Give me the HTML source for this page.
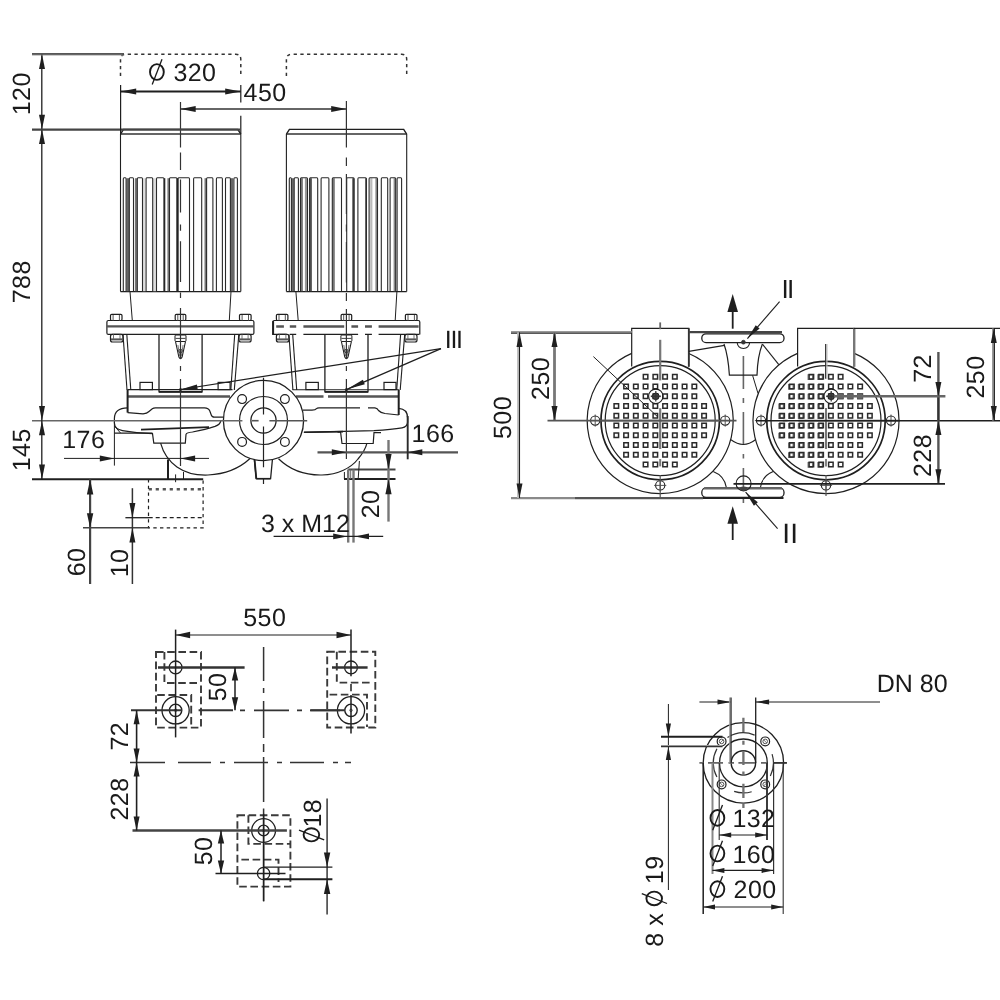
<!DOCTYPE html>
<html>
<head>
<meta charset="utf-8">
<title>Dimension drawing</title>
<style>
html,body{margin:0;padding:0;background:#fff;}
body{width:1000px;height:1000px;overflow:hidden;}
svg{display:block;will-change:transform;filter:grayscale(1);}
svg text{font-family:"Liberation Sans",sans-serif;text-rendering:geometricPrecision;}
</style>
</head>
<body>
<svg width="1000" height="1000" viewBox="0 0 1000 1000">
<rect x="0" y="0" width="1000" height="1000" fill="#ffffff"/>
<!-- front view -->
<path d="M120.5 76 V59.5 Q120.5 54.3 125.5 54.3 H235.8 Q240.8 54.3 240.8 59.5 V76" stroke="#333" stroke-width="1.5" fill="none" stroke-dasharray="3.3 3.4"/>
<path d="M120.5 134.2 L123.5 129.4 H237.8 L240.8 134.2" stroke="#1f1f1f" stroke-width="1.4" fill="none"/>
<line x1="120.5" y1="134" x2="240.8" y2="134" stroke="#333" stroke-width="1.7"/>
<line x1="120.5" y1="134" x2="120.5" y2="291.6" stroke="#1f1f1f" stroke-width="1.1"/>
<line x1="240.8" y1="134" x2="240.8" y2="291.6" stroke="#1f1f1f" stroke-width="1.1"/>
<line x1="120.5" y1="291.6" x2="240.8" y2="291.6" stroke="#1f1f1f" stroke-width="1.2"/>
<rect x="126.5" y="178.2" width="2.8" height="113" stroke="none" stroke-width="0" fill="#666"/>
<rect x="134.9" y="178.2" width="2.4" height="113" stroke="none" stroke-width="0" fill="#777"/>
<rect x="164" y="178.2" width="1.3" height="113" stroke="none" stroke-width="0" fill="#222"/>
<rect x="167.4" y="178.2" width="2.1" height="113" stroke="none" stroke-width="0" fill="#777"/>
<rect x="176.8" y="178.2" width="1.5" height="113" stroke="none" stroke-width="0" fill="#111"/>
<rect x="204.5" y="178.2" width="2.1" height="113" stroke="none" stroke-width="0" fill="#777"/>
<rect x="230.7" y="178.2" width="2.5" height="113" stroke="none" stroke-width="0" fill="#666"/>
<rect x="142.9" y="178.2" width="2.8" height="113" stroke="none" stroke-width="0" fill="#ddd"/>
<rect x="153.1" y="178.2" width="3" height="113" stroke="none" stroke-width="0" fill="#ddd"/>
<path d="M123.3 291.6 V179 Q123.3 177.7 124.1 177.7 H125.3 Q126.1 177.7 126.1 179 V291.6" stroke="#2a2a2a" stroke-width="1.1" fill="none"/>
<path d="M129.3 291.6 V179 Q129.3 177.7 130.1 177.7 H132.7 Q133.5 177.7 133.5 179 V291.6" stroke="#2a2a2a" stroke-width="1.1" fill="none"/>
<path d="M137.3 291.6 V179 Q137.3 177.7 138.1 177.7 H141.7 Q142.5 177.7 142.5 179 V291.6" stroke="#2a2a2a" stroke-width="1.1" fill="none"/>
<path d="M146.1 291.6 V179 Q146.1 177.7 146.9 177.7 H151.9 Q152.7 177.7 152.7 179 V291.6" stroke="#2a2a2a" stroke-width="1.1" fill="none"/>
<path d="M156.5 291.6 V179 Q156.5 177.7 157.3 177.7 H163.1 Q163.9 177.7 163.9 179 V291.6" stroke="#2a2a2a" stroke-width="1.1" fill="none"/>
<path d="M169.5 291.6 V179 Q169.5 177.7 170.3 177.7 H176.1 Q176.9 177.7 176.9 179 V291.6" stroke="#2a2a2a" stroke-width="1.1" fill="none"/>
<path d="M178 291.6 V179 Q178 177.7 178.8 177.7 H188.7 Q189.5 177.7 189.5 179 V291.6" stroke="#2a2a2a" stroke-width="1.1" fill="none"/>
<path d="M193.6 291.6 V179 Q193.6 177.7 194.4 177.7 H200.9 Q201.7 177.7 201.7 179 V291.6" stroke="#2a2a2a" stroke-width="1.1" fill="none"/>
<path d="M206.6 291.6 V179 Q206.6 177.7 207.4 177.7 H212.1 Q212.9 177.7 212.9 179 V291.6" stroke="#2a2a2a" stroke-width="1.1" fill="none"/>
<path d="M216.4 291.6 V179 Q216.4 177.7 217.2 177.7 H221.6 Q222.4 177.7 222.4 179 V291.6" stroke="#2a2a2a" stroke-width="1.1" fill="none"/>
<path d="M225.5 291.6 V179 Q225.5 177.7 226.3 177.7 H229.6 Q230.4 177.7 230.4 179 V291.6" stroke="#2a2a2a" stroke-width="1.1" fill="none"/>
<path d="M233.9 291.6 V179 Q233.9 177.7 234.7 177.7 H236.6 Q237.4 177.7 237.4 179 V291.6" stroke="#2a2a2a" stroke-width="1.1" fill="none"/>
<line x1="130" y1="291.6" x2="132.3" y2="320.5" stroke="#1f1f1f" stroke-width="1"/>
<line x1="231" y1="291.6" x2="229.3" y2="320.5" stroke="#1f1f1f" stroke-width="1"/>
<rect x="106.9" y="320.5" width="147" height="13.9" stroke="#1f1f1f" stroke-width="1.2" fill="none" rx="1.5"/>
<line x1="106.9" y1="326.4" x2="253.9" y2="326.4" stroke="#555" stroke-width="2.4"/>
<rect x="110.5" y="314.4" width="11.5" height="6.1" stroke="#1f1f1f" stroke-width="1.2" fill="none" rx="1.2"/>
<line x1="113.1" y1="315" x2="113.1" y2="320.5" stroke="#555" stroke-width="1"/>
<line x1="119.4" y1="315" x2="119.4" y2="320.5" stroke="#555" stroke-width="1"/>
<rect x="175.2" y="314.4" width="10.6" height="6.1" stroke="#1f1f1f" stroke-width="1.2" fill="none" rx="1.2"/>
<line x1="177.8" y1="315" x2="177.8" y2="320.5" stroke="#555" stroke-width="1"/>
<line x1="183.2" y1="315" x2="183.2" y2="320.5" stroke="#555" stroke-width="1"/>
<rect x="239.5" y="314.4" width="11.6" height="6.1" stroke="#1f1f1f" stroke-width="1.2" fill="none" rx="1.2"/>
<line x1="242.1" y1="315" x2="242.1" y2="320.5" stroke="#555" stroke-width="1"/>
<line x1="248.5" y1="315" x2="248.5" y2="320.5" stroke="#555" stroke-width="1"/>
<rect x="110.5" y="334.4" width="12.5" height="7.6" stroke="#1f1f1f" stroke-width="1.2" fill="none" rx="2"/>
<line x1="111" y1="339.4" x2="122.5" y2="339.4" stroke="#555" stroke-width="2"/>
<line x1="113.5" y1="334.4" x2="113.5" y2="339" stroke="#666" stroke-width="0.9"/>
<line x1="120" y1="334.4" x2="120" y2="339" stroke="#666" stroke-width="0.9"/>
<rect x="239" y="334.4" width="12.1" height="7.6" stroke="#1f1f1f" stroke-width="1.2" fill="none" rx="2"/>
<line x1="239.5" y1="339.4" x2="250.6" y2="339.4" stroke="#555" stroke-width="2"/>
<line x1="242" y1="334.4" x2="242" y2="339" stroke="#666" stroke-width="0.9"/>
<line x1="248.1" y1="334.4" x2="248.1" y2="339" stroke="#666" stroke-width="0.9"/>
<line x1="123" y1="334.4" x2="127" y2="390" stroke="#1f1f1f" stroke-width="1.1"/>
<line x1="126.8" y1="334.4" x2="130.8" y2="390" stroke="#1f1f1f" stroke-width="1.1"/>
<line x1="238.8" y1="334.4" x2="234.3" y2="390" stroke="#1f1f1f" stroke-width="1.1"/>
<line x1="234.7" y1="334.4" x2="230.8" y2="390" stroke="#1f1f1f" stroke-width="1.1"/>
<path d="M159 334.4 V391.9 H202.1 V334.4" stroke="#1f1f1f" stroke-width="1.3" fill="none"/>
<line x1="159" y1="391.9" x2="202.1" y2="391.9" stroke="#1f1f1f" stroke-width="1.8"/>
<rect x="175" y="335" width="11" height="6.5" stroke="#1f1f1f" stroke-width="1" fill="none" rx="1"/>
<line x1="175.5" y1="338.4" x2="185.5" y2="338.4" stroke="#444" stroke-width="1"/>
<path d="M175.5 341.5 L178.9 357 Q180.5 360.5 182.1 357 L185.5 341.5" stroke="#1f1f1f" stroke-width="1.1" fill="none"/>
<path d="M177.9 345 L179.7 356 M183.1 345 L181.3 356" stroke="#555" stroke-width="0.8" fill="none"/>
<circle cx="180.5" cy="351" r="1.7" stroke="#1f1f1f" stroke-width="0.9" fill="none"/>
<rect x="140" y="382.4" width="12.4" height="7.2" stroke="#1f1f1f" stroke-width="1.2" fill="none"/>
<rect x="218.1" y="382.4" width="12" height="7.2" stroke="#1f1f1f" stroke-width="1.2" fill="none"/>
<path d="M286.4 76 V59.5 Q286.4 54.3 291.4 54.3 H401.7 Q406.7 54.3 406.7 59.5 V76" stroke="#333" stroke-width="1.5" fill="none" stroke-dasharray="3.3 3.4"/>
<path d="M286.4 134.2 L289.4 129.4 H403.7 L406.7 134.2" stroke="#1f1f1f" stroke-width="1.4" fill="none"/>
<line x1="286.4" y1="134" x2="406.7" y2="134" stroke="#333" stroke-width="1.7"/>
<line x1="286.4" y1="134" x2="286.4" y2="291.6" stroke="#1f1f1f" stroke-width="1.1"/>
<line x1="406.7" y1="134" x2="406.7" y2="291.6" stroke="#1f1f1f" stroke-width="1.1"/>
<line x1="286.4" y1="291.6" x2="406.7" y2="291.6" stroke="#1f1f1f" stroke-width="1.2"/>
<rect x="291.7" y="178.2" width="2.2" height="113" stroke="none" stroke-width="0" fill="#666"/>
<rect x="300.7" y="178.2" width="2.2" height="113" stroke="none" stroke-width="0" fill="#777"/>
<rect x="304.9" y="178.2" width="2.3" height="113" stroke="none" stroke-width="0" fill="#999"/>
<rect x="309.6" y="178.2" width="2.3" height="113" stroke="none" stroke-width="0" fill="#555"/>
<rect x="332.6" y="178.2" width="2.2" height="113" stroke="none" stroke-width="0" fill="#777"/>
<rect x="352.3" y="178.2" width="2" height="113" stroke="none" stroke-width="0" fill="#444"/>
<rect x="365.4" y="178.2" width="1.4" height="113" stroke="none" stroke-width="0" fill="#222"/>
<rect x="370.2" y="178.2" width="2.2" height="113" stroke="none" stroke-width="0" fill="#bbb"/>
<rect x="375.4" y="178.2" width="2" height="113" stroke="none" stroke-width="0" fill="#888"/>
<rect x="393.6" y="178.2" width="2" height="113" stroke="none" stroke-width="0" fill="#888"/>
<path d="M289.3 291.6 V179 Q289.3 177.7 290.1 177.7 H290.6 Q291.4 177.7 291.4 179 V291.6" stroke="#2a2a2a" stroke-width="1.1" fill="none"/>
<path d="M294.2 291.6 V179 Q294.2 177.7 295 177.7 H297.6 Q298.4 177.7 298.4 179 V291.6" stroke="#2a2a2a" stroke-width="1.1" fill="none"/>
<path d="M300.5 291.6 V179 Q300.5 177.7 301.3 177.7 H306.7 Q307.5 177.7 307.5 179 V291.6" stroke="#2a2a2a" stroke-width="1.1" fill="none"/>
<path d="M309.6 291.6 V179 Q309.6 177.7 310.4 177.7 H316.9 Q317.7 177.7 317.7 179 V291.6" stroke="#2a2a2a" stroke-width="1.1" fill="none"/>
<path d="M321.1 291.6 V179 Q321.1 177.7 321.9 177.7 H328.1 Q328.9 177.7 328.9 179 V291.6" stroke="#2a2a2a" stroke-width="1.1" fill="none"/>
<path d="M332.3 291.6 V179 Q332.3 177.7 333.1 177.7 H340.7 Q341.5 177.7 341.5 179 V291.6" stroke="#2a2a2a" stroke-width="1.1" fill="none"/>
<path d="M346.7 291.6 V179 Q346.7 177.7 347.5 177.7 H353.3 Q354.1 177.7 354.1 179 V291.6" stroke="#2a2a2a" stroke-width="1.1" fill="none"/>
<path d="M357.9 291.6 V179 Q357.9 177.7 358.7 177.7 H365.5 Q366.3 177.7 366.3 179 V291.6" stroke="#2a2a2a" stroke-width="1.1" fill="none"/>
<path d="M369.1 291.6 V179 Q369.1 177.7 369.9 177.7 H376.7 Q377.5 177.7 377.5 179 V291.6" stroke="#2a2a2a" stroke-width="1.1" fill="none"/>
<path d="M381.3 291.6 V179 Q381.3 177.7 382.1 177.7 H386.9 Q387.7 177.7 387.7 179 V291.6" stroke="#2a2a2a" stroke-width="1.1" fill="none"/>
<path d="M390.1 291.6 V179 Q390.1 177.7 390.9 177.7 H394.9 Q395.7 177.7 395.7 179 V291.6" stroke="#2a2a2a" stroke-width="1.1" fill="none"/>
<path d="M397.1 291.6 V179 Q397.1 177.7 397.9 177.7 H400.8 Q401.6 177.7 401.6 179 V291.6" stroke="#2a2a2a" stroke-width="1.1" fill="none"/>
<line x1="295.9" y1="291.6" x2="298.2" y2="320.5" stroke="#1f1f1f" stroke-width="1"/>
<line x1="396.9" y1="291.6" x2="395.2" y2="320.5" stroke="#1f1f1f" stroke-width="1"/>
<path d="M272.8 334.4 V322 Q272.8 320.5 274.3 320.5 H418.3 Q419.8 320.5 419.8 322 V334.4" stroke="#1f1f1f" stroke-width="1.2" fill="none"/>
<line x1="276.2" y1="326.5" x2="418.6" y2="326.5" stroke="#555" stroke-width="2.4" stroke-dasharray="7.7 5.9 6.4 7.2 40.8 7.2 6.7 6.9 6.9 6.7 40"/>
<line x1="272.2" y1="334.4" x2="419.4" y2="334.4" stroke="#1f1f1f" stroke-width="1.3" stroke-dasharray="14.4 3.2 6.4 7.2 54.7 6.9 6.9 6.7 40.8"/>
<line x1="273.2" y1="321" x2="273.2" y2="334.4" stroke="#1f1f1f" stroke-width="1.8"/>
<rect x="276.4" y="314.4" width="11.5" height="6.1" stroke="#1f1f1f" stroke-width="1.2" fill="none" rx="1.2"/>
<line x1="279" y1="315" x2="279" y2="320.5" stroke="#555" stroke-width="1"/>
<line x1="285.3" y1="315" x2="285.3" y2="320.5" stroke="#555" stroke-width="1"/>
<rect x="341.1" y="314.4" width="10.6" height="6.1" stroke="#1f1f1f" stroke-width="1.2" fill="none" rx="1.2"/>
<line x1="343.7" y1="315" x2="343.7" y2="320.5" stroke="#555" stroke-width="1"/>
<line x1="349.1" y1="315" x2="349.1" y2="320.5" stroke="#555" stroke-width="1"/>
<rect x="405.4" y="314.4" width="11.6" height="6.1" stroke="#1f1f1f" stroke-width="1.2" fill="none" rx="1.2"/>
<line x1="408" y1="315" x2="408" y2="320.5" stroke="#555" stroke-width="1"/>
<line x1="414.4" y1="315" x2="414.4" y2="320.5" stroke="#555" stroke-width="1"/>
<rect x="276.4" y="334.4" width="12.5" height="7.6" stroke="#1f1f1f" stroke-width="1.2" fill="none" rx="2"/>
<line x1="276.9" y1="339.4" x2="288.4" y2="339.4" stroke="#555" stroke-width="2"/>
<line x1="279.4" y1="334.4" x2="279.4" y2="339" stroke="#666" stroke-width="0.9"/>
<line x1="285.9" y1="334.4" x2="285.9" y2="339" stroke="#666" stroke-width="0.9"/>
<rect x="404.9" y="334.4" width="12.1" height="7.6" stroke="#1f1f1f" stroke-width="1.2" fill="none" rx="2"/>
<line x1="405.4" y1="339.4" x2="416.5" y2="339.4" stroke="#555" stroke-width="2"/>
<line x1="407.9" y1="334.4" x2="407.9" y2="339" stroke="#666" stroke-width="0.9"/>
<line x1="414" y1="334.4" x2="414" y2="339" stroke="#666" stroke-width="0.9"/>
<line x1="288.9" y1="334.4" x2="292.9" y2="390" stroke="#1f1f1f" stroke-width="1.1"/>
<line x1="292.7" y1="334.4" x2="296.7" y2="390" stroke="#1f1f1f" stroke-width="1.1"/>
<line x1="404.7" y1="334.4" x2="400.2" y2="390" stroke="#1f1f1f" stroke-width="1.1"/>
<line x1="400.6" y1="334.4" x2="396.7" y2="390" stroke="#1f1f1f" stroke-width="1.1"/>
<path d="M324.9 334.4 V391.9 H368 V334.4" stroke="#1f1f1f" stroke-width="1.3" fill="none"/>
<line x1="324.9" y1="391.9" x2="368" y2="391.9" stroke="#1f1f1f" stroke-width="1.8"/>
<rect x="340.9" y="335" width="11" height="6.5" stroke="#1f1f1f" stroke-width="1" fill="none" rx="1"/>
<line x1="341.4" y1="338.4" x2="351.4" y2="338.4" stroke="#444" stroke-width="1"/>
<path d="M341.4 341.5 L344.8 357 Q346.4 360.5 348 357 L351.4 341.5" stroke="#1f1f1f" stroke-width="1.1" fill="none"/>
<path d="M343.8 345 L345.6 356 M349 345 L347.2 356" stroke="#555" stroke-width="0.8" fill="none"/>
<circle cx="346.4" cy="351" r="1.7" stroke="#1f1f1f" stroke-width="0.9" fill="none"/>
<rect x="305.9" y="382.4" width="12.4" height="7.2" stroke="#1f1f1f" stroke-width="1.2" fill="none"/>
<rect x="384" y="382.4" width="12" height="7.2" stroke="#1f1f1f" stroke-width="1.2" fill="none"/>
<line x1="127.5" y1="389.6" x2="232.5" y2="389.6" stroke="#1f1f1f" stroke-width="1.1"/>
<line x1="127.5" y1="396.4" x2="230" y2="396.4" stroke="#555" stroke-width="2.5"/>
<line x1="127.6" y1="389.6" x2="127.6" y2="412.6" stroke="#1f1f1f" stroke-width="2"/>
<path d="M127.6 412.6 L143 413.8 Q147 413.6 149 411.5 L152.3 408.8 Q153.6 407.8 155.5 407.8 H204.5 Q208.6 407.8 209.8 411 L211 414.3 Q211.8 417.2 214.5 417.2 H223.5" stroke="#1f1f1f" stroke-width="1.2" fill="none"/>
<path d="M127.6 407.8 Q114.4 408 114.4 418.5 V423 Q114.6 429.2 122.5 430.6 Q136 433 152.5 433.6 L153.8 443.2 H185.3 L186 434.4 Q186.5 432.6 192.5 432 Q206 429.4 215 426.4 Q220 424.6 220.8 421" stroke="#1f1f1f" stroke-width="1.2" fill="none"/>
<line x1="141" y1="429.6" x2="209" y2="427.2" stroke="#1f1f1f" stroke-width="1.7"/>
<line x1="114.4" y1="433.2" x2="152.5" y2="433.2" stroke="#1f1f1f" stroke-width="1.3"/>
<line x1="114.4" y1="426" x2="120.5" y2="433" stroke="#1f1f1f" stroke-width="1"/>
<path d="M160.6 443.2 C166 463 183 476 208 475 C228 474 242 466 250 458.5" stroke="#1f1f1f" stroke-width="1.2" fill="none"/>
<line x1="168" y1="459.4" x2="168" y2="479.2" stroke="#1f1f1f" stroke-width="2"/>
<line x1="183.5" y1="472" x2="183.5" y2="479.2" stroke="#1f1f1f" stroke-width="1"/>
<line x1="175.6" y1="474.4" x2="175.6" y2="482.2" stroke="#1f1f1f" stroke-width="1"/>
<line x1="292.5" y1="389.7" x2="398.8" y2="389.7" stroke="#1f1f1f" stroke-width="1.1"/>
<line x1="296" y1="396.4" x2="398" y2="396.4" stroke="#555" stroke-width="2.5" stroke-dasharray="27.5 4.5 80 0"/>
<line x1="398.7" y1="389.7" x2="398.7" y2="415" stroke="#1f1f1f" stroke-width="2"/>
<path d="M302.8 410.2 H312 Q315.5 410 316.5 408.6 Q317.2 407.9 319 407.9" stroke="#1f1f1f" stroke-width="1.2" fill="none"/>
<line x1="319" y1="407.9" x2="375" y2="407.9" stroke="#1f1f1f" stroke-width="1.2" stroke-dasharray="41 8 7 0"/>
<path d="M375 407.9 Q377.5 408.4 378.5 410.5 Q380.5 412.8 385 413.5 L398.7 415" stroke="#1f1f1f" stroke-width="1.2" fill="none"/>
<path d="M398.7 408.4 Q407.6 409 407.6 418 V422.2 Q407.4 426.8 402 427.8 Q392 429.6 374 430.6 L303.8 432.3" stroke="#1f1f1f" stroke-width="1.3" fill="none"/>
<path d="M337.5 432.2 H340.6 L342 443.5 H373.2 L374 432.6 H381" stroke="#1f1f1f" stroke-width="1.2" fill="none"/>
<line x1="304" y1="432.3" x2="343" y2="431.6" stroke="#1f1f1f" stroke-width="1.6"/>
<path d="M278.5 458.8 C290 470 304 475.4 322 475 C338 474.6 351 468 358 459 C363 453 366 447 366.8 443.6" stroke="#1f1f1f" stroke-width="1.2" fill="none"/>
<line x1="348.2" y1="469.5" x2="395.5" y2="469.5" stroke="#444" stroke-width="2.2"/>
<line x1="344" y1="478.9" x2="395.5" y2="478.9" stroke="#1f1f1f" stroke-width="2"/>
<line x1="344.4" y1="472" x2="344.4" y2="478.9" stroke="#1f1f1f" stroke-width="1"/>
<line x1="359.4" y1="461" x2="358.2" y2="478.9" stroke="#1f1f1f" stroke-width="1"/>
<line x1="348.2" y1="469.5" x2="348.2" y2="542.6" stroke="#777" stroke-width="2.4"/>
<line x1="350.7" y1="469.4" x2="350.7" y2="479" stroke="#666" stroke-width="1"/>
<line x1="353.5" y1="469.5" x2="353.5" y2="542.6" stroke="#777" stroke-width="2.4"/>
<circle cx="263.5" cy="420.5" r="40.1" stroke="#1f1f1f" stroke-width="1.3" fill="#fff"/>
<circle cx="263.5" cy="420.5" r="24" stroke="#1f1f1f" stroke-width="1.2" fill="none"/>
<circle cx="263.5" cy="420.5" r="12.6" stroke="#1f1f1f" stroke-width="1.3" fill="none"/>
<circle cx="242.1" cy="399.1" r="4.4" stroke="#1f1f1f" stroke-width="1.2" fill="none"/>
<circle cx="242.1" cy="441.9" r="4.4" stroke="#1f1f1f" stroke-width="1.2" fill="none"/>
<circle cx="284.9" cy="399.1" r="4.4" stroke="#1f1f1f" stroke-width="1.2" fill="none"/>
<circle cx="284.9" cy="441.9" r="4.4" stroke="#1f1f1f" stroke-width="1.2" fill="none"/>
<path d="M254.4 459.8 L256.2 478.7 H270.6 L272.4 459.8" stroke="#1f1f1f" stroke-width="1.3" fill="none"/>
<line x1="254.6" y1="460" x2="256.3" y2="478.7" stroke="#1f1f1f" stroke-width="1.8"/>
<line x1="256.2" y1="478.7" x2="270.6" y2="478.7" stroke="#1f1f1f" stroke-width="1.6"/>
<line x1="263.5" y1="377.8" x2="263.5" y2="484" stroke="#222" stroke-width="1.2" stroke-dasharray="36.6 12 40.8 10.8 6"/>
<line x1="32" y1="420.7" x2="242.4" y2="420.7" stroke="#666" stroke-width="1.6"/>
<line x1="252" y1="420.7" x2="258.6" y2="420.7" stroke="#555" stroke-width="1.6"/>
<line x1="269.4" y1="420.7" x2="307.2" y2="420.7" stroke="#555" stroke-width="1.6"/>
<line x1="180.5" y1="102" x2="180.5" y2="466" stroke="#333" stroke-width="1.2" stroke-dasharray="45.5 5 17.5 9.5 33 12 6.3 10.5 40.7 10.4 5.6 10 50 8 5 8 87"/>
<line x1="346.4" y1="101" x2="346.4" y2="459" stroke="#333" stroke-width="1.2" stroke-dasharray="46.5 10 8.5 8 40 10.5 7 10.5 40.6 10.4 8 8 49 8 5 8 80"/>
<line x1="32" y1="479.2" x2="203.2" y2="479.2" stroke="#1f1f1f" stroke-width="2"/>
<path d="M148.5 479 V527.8 H203.1 V479" stroke="#1f1f1f" stroke-width="1.2" fill="none" stroke-dasharray="3.4 3.3"/>
<line x1="148.7" y1="489.3" x2="203.3" y2="489.3" stroke="#555" stroke-width="2.6" stroke-dasharray="3.2 3.8"/>
<line x1="148.7" y1="517.7" x2="203.3" y2="517.7" stroke="#1f1f1f" stroke-width="1.2" stroke-dasharray="4 3"/>
<line x1="41.8" y1="54.3" x2="41.8" y2="479.2" stroke="#1f1f1f" stroke-width="1.3"/>
<line x1="32" y1="54.9" x2="124" y2="54.9" stroke="#999" stroke-width="1.4"/>
<line x1="32" y1="53.8" x2="124" y2="53.8" stroke="#1f1f1f" stroke-width="1.2"/>
<line x1="32" y1="129.6" x2="240" y2="129.6" stroke="#444" stroke-width="2.4"/>
<polygon points="42,54.3 45,68.9 39,68.9" fill="#1f1f1f"/>
<polygon points="42,129.3 39,114.7 45,114.7" fill="#1f1f1f"/>
<polygon points="42,129.3 45,143.9 39,143.9" fill="#1f1f1f"/>
<polygon points="42,420.7 39,406.1 45,406.1" fill="#1f1f1f"/>
<polygon points="42,420.7 45,435.3 39,435.3" fill="#1f1f1f"/>
<polygon points="42,479.2 39,464.6 45,464.6" fill="#1f1f1f"/>
<text font-size="25" fill="#1a1a1a" text-anchor="middle" letter-spacing="0.45" transform="translate(29.5,93.8) rotate(-90)">120</text>
<text font-size="25" fill="#1a1a1a" text-anchor="middle" letter-spacing="0.45" transform="translate(29.5,281.8) rotate(-90)">788</text>
<text font-size="25" fill="#1a1a1a" text-anchor="middle" letter-spacing="0.45" transform="translate(29.5,449.8) rotate(-90)">145</text>
<line x1="120.6" y1="91.6" x2="240.8" y2="91.6" stroke="#1f1f1f" stroke-width="2"/>
<polygon points="120.6,91.6 136.2,88.6 136.2,94.6" fill="#1f1f1f"/>
<polygon points="240.8,91.6 225.2,94.6 225.2,88.6" fill="#1f1f1f"/>
<line x1="120.6" y1="84.9" x2="120.6" y2="134" stroke="#1f1f1f" stroke-width="1.2"/>
<line x1="240.8" y1="84.9" x2="240.8" y2="134" stroke="#1f1f1f" stroke-width="1.2" stroke-dasharray="17.5 13.3 30"/>
<ellipse cx="156.9" cy="72" rx="6.9" ry="7.9" fill="none" stroke="#1a1a1a" stroke-width="1.9"/>
<line x1="152.2" y1="84.4" x2="162" y2="59.2" stroke="#1a1a1a" stroke-width="1.3"/>
<text font-size="25" fill="#1a1a1a" text-anchor="start" letter-spacing="0.45" x="173.4" y="81">320</text>
<line x1="180.5" y1="109" x2="346.4" y2="109" stroke="#333" stroke-width="1.3"/>
<polygon points="180.5,109 195.7,106 195.7,112" fill="#1f1f1f"/>
<polygon points="346.4,109 331.2,112 331.2,106" fill="#1f1f1f"/>
<text font-size="25" fill="#1a1a1a" text-anchor="start" letter-spacing="0.45" x="243.6" y="101">450</text>
<line x1="64" y1="458.4" x2="209" y2="458.4" stroke="#1f1f1f" stroke-width="1"/>
<polygon points="114.4,458.4 99.8,461.4 99.8,455.4" fill="#1f1f1f"/>
<polygon points="180.5,458.4 195.1,455.4 195.1,461.4" fill="#1f1f1f"/>
<line x1="114.4" y1="422" x2="114.4" y2="465.6" stroke="#1f1f1f" stroke-width="1"/>
<text font-size="25" fill="#1a1a1a" text-anchor="start" letter-spacing="0.45" x="62.2" y="448">176</text>
<line x1="317.5" y1="452.3" x2="458" y2="452.3" stroke="#555" stroke-width="2.3"/>
<polygon points="346.4,452.3 331.8,455.3 331.8,449.3" fill="#1f1f1f"/>
<polygon points="407.7,452.3 422.3,449.3 422.3,455.3" fill="#1f1f1f"/>
<line x1="407.7" y1="416" x2="407.7" y2="459.3" stroke="#2a2a2a" stroke-width="1.9"/>
<text font-size="25" fill="#1a1a1a" text-anchor="start" letter-spacing="0.45" x="411.6" y="442">166</text>
<line x1="90.1" y1="479.2" x2="90.1" y2="584" stroke="#444" stroke-width="2.2"/>
<polygon points="90.1,479.2 93.3,494.4 86.9,494.4" fill="#1f1f1f"/>
<polygon points="90.1,527.8 86.9,513.2 93.3,513.2" fill="#1f1f1f"/>
<line x1="83" y1="527.8" x2="148.5" y2="527.8" stroke="#444" stroke-width="1.5"/>
<text font-size="25" fill="#1a1a1a" text-anchor="middle" letter-spacing="0.45" transform="translate(85,562) rotate(-90)">60</text>
<line x1="132.4" y1="488.2" x2="132.4" y2="584" stroke="#333" stroke-width="1.5"/>
<line x1="125.4" y1="517.7" x2="149" y2="517.7" stroke="#1f1f1f" stroke-width="1.3"/>
<polygon points="132.4,517.7 129.4,503.1 135.4,503.1" fill="#1f1f1f"/>
<polygon points="132.4,527.8 135.4,542.4 129.4,542.4" fill="#1f1f1f"/>
<text font-size="25" fill="#1a1a1a" text-anchor="middle" letter-spacing="0.45" transform="translate(128,563) rotate(-90)">10</text>
<line x1="388.5" y1="440" x2="388.5" y2="521.6" stroke="#777" stroke-width="2.4"/>
<polygon points="388.5,469.5 385.4,453.9 391.6,453.9" fill="#1f1f1f"/>
<polygon points="388.5,478.9 391.6,494.3 385.4,494.3" fill="#1f1f1f"/>
<text font-size="25" fill="#1a1a1a" text-anchor="middle" letter-spacing="0.45" transform="translate(378.8,504) rotate(-90)">20</text>
<line x1="273.6" y1="536.4" x2="383.2" y2="536.4" stroke="#1f1f1f" stroke-width="1.3"/>
<polygon points="347.2,536.4 333.2,539.2 333.2,533.6" fill="#1f1f1f"/>
<polygon points="355,536.4 369,533.6 369,539.2" fill="#1f1f1f"/>
<text font-size="25" fill="#1a1a1a" text-anchor="start" letter-spacing="0" x="261" y="531.6">3 x M12</text>
<line x1="441" y1="348.6" x2="180.5" y2="389.5" stroke="#1f1f1f" stroke-width="1.2"/>
<line x1="441" y1="348.6" x2="346.4" y2="389.6" stroke="#1f1f1f" stroke-width="1.3"/>
<polygon points="180.5,389.5 196.92,384.49 197.67,389.23" fill="#1f1f1f"/>
<polygon points="346.4,389.6 362.88,379.84 364.79,384.25" fill="#1f1f1f"/>
<circle cx="180.5" cy="389.6" r="1.2" stroke="#1f1f1f" stroke-width="0.6" fill="#1f1f1f"/>
<circle cx="346.4" cy="389.7" r="1.2" stroke="#1f1f1f" stroke-width="0.6" fill="#1f1f1f"/>
<text font-size="25" fill="#1a1a1a" text-anchor="start" letter-spacing="-1.3" x="444.8" y="348.4">III</text>
<!-- top view -->
<path d="M631.7 366.5 V328.4 H688.8 V366.5" stroke="#1f1f1f" stroke-width="1.2" fill="none"/>
<path d="M688.8 353.44 A73 73 0 1 1 631.7 353.39" stroke="#1f1f1f" stroke-width="1.2" fill="none"/>
<circle cx="660.2" cy="420.6" r="59.2" stroke="#1f1f1f" stroke-width="1.7" fill="none"/>
<circle cx="660.2" cy="420.6" r="55" stroke="#1f1f1f" stroke-width="1.2" fill="none"/>
<path d="M643.33 374.48h4.5v4.5h-4.5zM653.08 374.48h4.5v4.5h-4.5zM662.83 374.48h4.5v4.5h-4.5zM672.58 374.48h4.5v4.5h-4.5zM623.83 384.23h4.5v4.5h-4.5zM633.58 384.23h4.5v4.5h-4.5zM643.33 384.23h4.5v4.5h-4.5zM653.08 384.23h4.5v4.5h-4.5zM662.83 384.23h4.5v4.5h-4.5zM672.58 384.23h4.5v4.5h-4.5zM682.33 384.23h4.5v4.5h-4.5zM692.08 384.23h4.5v4.5h-4.5zM623.83 393.98h4.5v4.5h-4.5zM633.58 393.98h4.5v4.5h-4.5zM643.33 393.98h4.5v4.5h-4.5zM653.08 393.98h4.5v4.5h-4.5zM662.83 393.98h4.5v4.5h-4.5zM672.58 393.98h4.5v4.5h-4.5zM682.33 393.98h4.5v4.5h-4.5zM692.08 393.98h4.5v4.5h-4.5zM614.08 403.73h4.5v4.5h-4.5zM623.83 403.73h4.5v4.5h-4.5zM633.58 403.73h4.5v4.5h-4.5zM643.33 403.73h4.5v4.5h-4.5zM653.08 403.73h4.5v4.5h-4.5zM662.83 403.73h4.5v4.5h-4.5zM672.58 403.73h4.5v4.5h-4.5zM682.33 403.73h4.5v4.5h-4.5zM692.08 403.73h4.5v4.5h-4.5zM701.83 403.73h4.5v4.5h-4.5zM614.08 413.48h4.5v4.5h-4.5zM623.83 413.48h4.5v4.5h-4.5zM633.58 413.48h4.5v4.5h-4.5zM643.33 413.48h4.5v4.5h-4.5zM653.08 413.48h4.5v4.5h-4.5zM662.83 413.48h4.5v4.5h-4.5zM672.58 413.48h4.5v4.5h-4.5zM682.33 413.48h4.5v4.5h-4.5zM692.08 413.48h4.5v4.5h-4.5zM701.83 413.48h4.5v4.5h-4.5zM614.08 423.23h4.5v4.5h-4.5zM623.83 423.23h4.5v4.5h-4.5zM633.58 423.23h4.5v4.5h-4.5zM643.33 423.23h4.5v4.5h-4.5zM653.08 423.23h4.5v4.5h-4.5zM662.83 423.23h4.5v4.5h-4.5zM672.58 423.23h4.5v4.5h-4.5zM682.33 423.23h4.5v4.5h-4.5zM692.08 423.23h4.5v4.5h-4.5zM701.83 423.23h4.5v4.5h-4.5zM614.08 432.98h4.5v4.5h-4.5zM623.83 432.98h4.5v4.5h-4.5zM633.58 432.98h4.5v4.5h-4.5zM643.33 432.98h4.5v4.5h-4.5zM653.08 432.98h4.5v4.5h-4.5zM662.83 432.98h4.5v4.5h-4.5zM672.58 432.98h4.5v4.5h-4.5zM682.33 432.98h4.5v4.5h-4.5zM692.08 432.98h4.5v4.5h-4.5zM701.83 432.98h4.5v4.5h-4.5zM623.83 442.73h4.5v4.5h-4.5zM633.58 442.73h4.5v4.5h-4.5zM643.33 442.73h4.5v4.5h-4.5zM653.08 442.73h4.5v4.5h-4.5zM662.83 442.73h4.5v4.5h-4.5zM672.58 442.73h4.5v4.5h-4.5zM682.33 442.73h4.5v4.5h-4.5zM692.08 442.73h4.5v4.5h-4.5zM623.83 452.48h4.5v4.5h-4.5zM633.58 452.48h4.5v4.5h-4.5zM643.33 452.48h4.5v4.5h-4.5zM653.08 452.48h4.5v4.5h-4.5zM662.83 452.48h4.5v4.5h-4.5zM672.58 452.48h4.5v4.5h-4.5zM682.33 452.48h4.5v4.5h-4.5zM692.08 452.48h4.5v4.5h-4.5zM643.33 462.23h4.5v4.5h-4.5zM653.08 462.23h4.5v4.5h-4.5zM662.83 462.23h4.5v4.5h-4.5zM672.58 462.23h4.5v4.5h-4.5z" stroke="#2a2a2a" stroke-width="1.5" fill="none"/>
<path d="M797.6 366.5 V328.4 H853.8 V366.5" stroke="#1f1f1f" stroke-width="1.2" fill="none"/>
<path d="M853.8 353.1 A73 73 0 1 1 797.6 353.35" stroke="#1f1f1f" stroke-width="1.2" fill="none"/>
<circle cx="826" cy="420.6" r="59.2" stroke="#1f1f1f" stroke-width="1.7" fill="none"/>
<circle cx="826" cy="420.6" r="55" stroke="#1f1f1f" stroke-width="1.2" fill="none"/>
<path d="M808.12 374.88h4.5v4.5h-4.5zM817.88 374.88h4.5v4.5h-4.5zM788.62 384.62h4.5v4.5h-4.5zM798.38 384.62h4.5v4.5h-4.5zM808.12 384.62h4.5v4.5h-4.5zM817.88 384.62h4.5v4.5h-4.5zM788.62 394.38h4.5v4.5h-4.5zM798.38 394.38h4.5v4.5h-4.5zM808.12 394.38h4.5v4.5h-4.5zM817.88 394.38h4.5v4.5h-4.5zM778.88 404.12h4.5v4.5h-4.5zM788.62 404.12h4.5v4.5h-4.5zM798.38 404.12h4.5v4.5h-4.5zM808.12 404.12h4.5v4.5h-4.5zM817.88 404.12h4.5v4.5h-4.5zM778.88 413.88h4.5v4.5h-4.5zM788.62 413.88h4.5v4.5h-4.5zM798.38 413.88h4.5v4.5h-4.5zM808.12 413.88h4.5v4.5h-4.5zM817.88 413.88h4.5v4.5h-4.5zM778.88 423.62h4.5v4.5h-4.5zM788.62 423.62h4.5v4.5h-4.5zM798.38 423.62h4.5v4.5h-4.5zM808.12 423.62h4.5v4.5h-4.5zM817.88 423.62h4.5v4.5h-4.5zM778.88 433.38h4.5v4.5h-4.5zM788.62 433.38h4.5v4.5h-4.5zM798.38 433.38h4.5v4.5h-4.5zM808.12 433.38h4.5v4.5h-4.5zM817.88 433.38h4.5v4.5h-4.5zM788.62 443.12h4.5v4.5h-4.5zM798.38 443.12h4.5v4.5h-4.5zM808.12 443.12h4.5v4.5h-4.5zM817.88 443.12h4.5v4.5h-4.5zM788.62 452.88h4.5v4.5h-4.5zM798.38 452.88h4.5v4.5h-4.5zM808.12 452.88h4.5v4.5h-4.5zM817.88 452.88h4.5v4.5h-4.5zM808.12 462.62h4.5v4.5h-4.5zM817.88 462.62h4.5v4.5h-4.5z" stroke="#777" stroke-width="1.2" fill="none"/>
<path d="M809.12 374.48h4.5v4.5h-4.5zM818.88 374.48h4.5v4.5h-4.5zM828.62 374.48h4.5v4.5h-4.5zM838.38 374.48h4.5v4.5h-4.5zM789.62 384.23h4.5v4.5h-4.5zM799.38 384.23h4.5v4.5h-4.5zM809.12 384.23h4.5v4.5h-4.5zM818.88 384.23h4.5v4.5h-4.5zM828.62 384.23h4.5v4.5h-4.5zM838.38 384.23h4.5v4.5h-4.5zM848.12 384.23h4.5v4.5h-4.5zM857.88 384.23h4.5v4.5h-4.5zM789.62 393.98h4.5v4.5h-4.5zM799.38 393.98h4.5v4.5h-4.5zM809.12 393.98h4.5v4.5h-4.5zM818.88 393.98h4.5v4.5h-4.5zM828.62 393.98h4.5v4.5h-4.5zM838.38 393.98h4.5v4.5h-4.5zM848.12 393.98h4.5v4.5h-4.5zM857.88 393.98h4.5v4.5h-4.5zM779.88 403.73h4.5v4.5h-4.5zM789.62 403.73h4.5v4.5h-4.5zM799.38 403.73h4.5v4.5h-4.5zM809.12 403.73h4.5v4.5h-4.5zM818.88 403.73h4.5v4.5h-4.5zM828.62 403.73h4.5v4.5h-4.5zM838.38 403.73h4.5v4.5h-4.5zM848.12 403.73h4.5v4.5h-4.5zM857.88 403.73h4.5v4.5h-4.5zM867.62 403.73h4.5v4.5h-4.5zM779.88 413.48h4.5v4.5h-4.5zM789.62 413.48h4.5v4.5h-4.5zM799.38 413.48h4.5v4.5h-4.5zM809.12 413.48h4.5v4.5h-4.5zM818.88 413.48h4.5v4.5h-4.5zM828.62 413.48h4.5v4.5h-4.5zM838.38 413.48h4.5v4.5h-4.5zM848.12 413.48h4.5v4.5h-4.5zM857.88 413.48h4.5v4.5h-4.5zM867.62 413.48h4.5v4.5h-4.5zM779.88 423.23h4.5v4.5h-4.5zM789.62 423.23h4.5v4.5h-4.5zM799.38 423.23h4.5v4.5h-4.5zM809.12 423.23h4.5v4.5h-4.5zM818.88 423.23h4.5v4.5h-4.5zM828.62 423.23h4.5v4.5h-4.5zM838.38 423.23h4.5v4.5h-4.5zM848.12 423.23h4.5v4.5h-4.5zM857.88 423.23h4.5v4.5h-4.5zM867.62 423.23h4.5v4.5h-4.5zM779.88 432.98h4.5v4.5h-4.5zM789.62 432.98h4.5v4.5h-4.5zM799.38 432.98h4.5v4.5h-4.5zM809.12 432.98h4.5v4.5h-4.5zM818.88 432.98h4.5v4.5h-4.5zM828.62 432.98h4.5v4.5h-4.5zM838.38 432.98h4.5v4.5h-4.5zM848.12 432.98h4.5v4.5h-4.5zM857.88 432.98h4.5v4.5h-4.5zM867.62 432.98h4.5v4.5h-4.5zM789.62 442.73h4.5v4.5h-4.5zM799.38 442.73h4.5v4.5h-4.5zM809.12 442.73h4.5v4.5h-4.5zM818.88 442.73h4.5v4.5h-4.5zM828.62 442.73h4.5v4.5h-4.5zM838.38 442.73h4.5v4.5h-4.5zM848.12 442.73h4.5v4.5h-4.5zM857.88 442.73h4.5v4.5h-4.5zM789.62 452.48h4.5v4.5h-4.5zM799.38 452.48h4.5v4.5h-4.5zM809.12 452.48h4.5v4.5h-4.5zM818.88 452.48h4.5v4.5h-4.5zM828.62 452.48h4.5v4.5h-4.5zM838.38 452.48h4.5v4.5h-4.5zM848.12 452.48h4.5v4.5h-4.5zM857.88 452.48h4.5v4.5h-4.5zM809.12 462.23h4.5v4.5h-4.5zM818.88 462.23h4.5v4.5h-4.5zM828.62 462.23h4.5v4.5h-4.5zM838.38 462.23h4.5v4.5h-4.5z" stroke="#2a2a2a" stroke-width="1.5" fill="none"/>
<line x1="688.8" y1="328.4" x2="688.8" y2="366.8" stroke="#333" stroke-width="1.8"/>
<line x1="854.2" y1="328.4" x2="854.2" y2="366.8" stroke="#777" stroke-width="2.4"/>
<circle cx="595.2" cy="420.6" r="4.6" stroke="#1f1f1f" stroke-width="1.1" fill="#fff"/>
<line x1="589.1" y1="420.6" x2="601.3" y2="420.6" stroke="#444" stroke-width="0.9"/>
<line x1="595.2" y1="414.5" x2="595.2" y2="426.7" stroke="#444" stroke-width="0.9"/>
<circle cx="725.2" cy="420.6" r="4.6" stroke="#1f1f1f" stroke-width="1.1" fill="#fff"/>
<line x1="719.1" y1="420.6" x2="731.3" y2="420.6" stroke="#444" stroke-width="0.9"/>
<line x1="725.2" y1="414.5" x2="725.2" y2="426.7" stroke="#444" stroke-width="0.9"/>
<circle cx="761" cy="420.6" r="4.6" stroke="#1f1f1f" stroke-width="1.1" fill="#fff"/>
<line x1="754.9" y1="420.6" x2="767.1" y2="420.6" stroke="#444" stroke-width="0.9"/>
<line x1="761" y1="414.5" x2="761" y2="426.7" stroke="#444" stroke-width="0.9"/>
<circle cx="891" cy="420.6" r="4.6" stroke="#1f1f1f" stroke-width="1.1" fill="#fff"/>
<line x1="884.9" y1="420.6" x2="897.1" y2="420.6" stroke="#444" stroke-width="0.9"/>
<line x1="891" y1="414.5" x2="891" y2="426.7" stroke="#444" stroke-width="0.9"/>
<circle cx="660.2" cy="485.4" r="4.6" stroke="#1f1f1f" stroke-width="1.1" fill="#fff"/>
<line x1="654.1" y1="485.4" x2="666.3" y2="485.4" stroke="#444" stroke-width="0.9"/>
<line x1="660.2" y1="479.3" x2="660.2" y2="491.5" stroke="#444" stroke-width="0.9"/>
<circle cx="826" cy="485.4" r="4.6" stroke="#1f1f1f" stroke-width="1.1" fill="#fff"/>
<line x1="819.9" y1="485.4" x2="832.1" y2="485.4" stroke="#444" stroke-width="0.9"/>
<line x1="826" y1="479.3" x2="826" y2="491.5" stroke="#444" stroke-width="0.9"/>
<circle cx="655.8" cy="396.3" r="7.2" stroke="#1f1f1f" stroke-width="1.1" fill="none"/>
<circle cx="655.8" cy="396.3" r="3.3" stroke="#1f1f1f" stroke-width="1" fill="#444"/>
<line x1="650.8" y1="396.3" x2="660.8" y2="396.3" stroke="#333" stroke-width="1.6"/>
<line x1="655.8" y1="391" x2="655.8" y2="401.5" stroke="#333" stroke-width="1.2"/>
<circle cx="831.2" cy="396.3" r="7.2" stroke="#1f1f1f" stroke-width="1.1" fill="none"/>
<circle cx="831.2" cy="396.3" r="3.3" stroke="#1f1f1f" stroke-width="1" fill="#444"/>
<line x1="826.2" y1="396.3" x2="836.2" y2="396.3" stroke="#333" stroke-width="1.6"/>
<line x1="831.2" y1="391" x2="831.2" y2="401.5" stroke="#333" stroke-width="1.2"/>
<line x1="593.4" y1="356.6" x2="657.2" y2="416.4" stroke="#1f1f1f" stroke-width="1"/>
<line x1="660.2" y1="322.4" x2="660.2" y2="329.2" stroke="#666" stroke-width="1.8"/>
<line x1="660.2" y1="339.8" x2="660.2" y2="380.4" stroke="#777" stroke-width="2.2"/>
<line x1="660.2" y1="408.2" x2="660.2" y2="449" stroke="#777" stroke-width="2.2"/>
<line x1="660.2" y1="459" x2="660.2" y2="466.4" stroke="#777" stroke-width="2"/>
<line x1="660.2" y1="475" x2="660.2" y2="498" stroke="#555" stroke-width="1.2"/>
<line x1="602" y1="420.6" x2="718" y2="420.6" stroke="#666" stroke-width="1.8"/>
<line x1="825.7" y1="344" x2="825.7" y2="378.8" stroke="#333" stroke-width="1.3"/>
<line x1="826.9" y1="344" x2="826.9" y2="378.8" stroke="#bbb" stroke-width="1.2"/>
<line x1="826" y1="408" x2="826" y2="449" stroke="#777" stroke-width="2"/>
<line x1="826" y1="459" x2="826" y2="466.4" stroke="#777" stroke-width="1.8"/>
<line x1="826" y1="475" x2="826" y2="496" stroke="#555" stroke-width="1.2"/>
<line x1="798.4" y1="420.6" x2="900" y2="420.6" stroke="#555" stroke-width="1.8"/>
<line x1="782.8" y1="420.6" x2="787.6" y2="420.6" stroke="#555" stroke-width="1.6"/>
<rect x="838" y="393.7" width="5.2" height="5.2" stroke="#555" stroke-width="0.8" fill="#666"/>
<rect x="847.8" y="393.7" width="5.2" height="5.2" stroke="#555" stroke-width="0.8" fill="#666"/>
<rect x="857.5" y="393.7" width="5.2" height="5.2" stroke="#555" stroke-width="0.8" fill="#666"/>
<line x1="743.4" y1="356" x2="743.4" y2="503" stroke="#666" stroke-width="1.6" stroke-dasharray="33 9 5 9 33 9 4.5 9.5 35"/>
<line x1="688.8" y1="332.1" x2="782" y2="332.1" stroke="#444" stroke-width="2.4"/>
<rect x="701.8" y="333.8" width="82.2" height="8.8" stroke="#1f1f1f" stroke-width="1.3" fill="#fff" rx="4.2"/>
<circle cx="743.4" cy="342.2" r="1.9" stroke="#333" stroke-width="0.8" fill="#333"/>
<path d="M737.2 342.8 Q737.8 348.4 743.4 348.5 Q749 348.4 749.6 342.8" stroke="#1f1f1f" stroke-width="1.1" fill="none"/>
<path d="M724 344 Q728.2 356 729.4 375.2 H757 Q757.6 356 762.4 344" stroke="#1f1f1f" stroke-width="1.2" fill="none"/>
<line x1="688.8" y1="351.4" x2="724.5" y2="345.4" stroke="#1f1f1f" stroke-width="1.1"/>
<line x1="762.4" y1="344" x2="778.8" y2="364.6" stroke="#1f1f1f" stroke-width="1.1"/>
<line x1="752.6" y1="375.4" x2="758" y2="393.4" stroke="#1f1f1f" stroke-width="1"/>
<path d="M731 439.8 Q743.4 449.2 755.4 439.8" stroke="#1f1f1f" stroke-width="1.1" fill="none"/>
<path d="M713.2 471.6 Q724.5 476 726.4 487.6" stroke="#1f1f1f" stroke-width="1.1" fill="none"/>
<path d="M773.2 471.6 Q762 476 760.4 487.6" stroke="#1f1f1f" stroke-width="1.1" fill="none"/>
<rect x="701.8" y="487.8" width="82.2" height="9.6" stroke="#1f1f1f" stroke-width="1.3" fill="#fff" rx="4.4"/>
<line x1="703" y1="497.9" x2="783.5" y2="497.9" stroke="#222" stroke-width="2"/>
<line x1="704" y1="488.3" x2="782" y2="488.3" stroke="#666" stroke-width="2.2"/>
<circle cx="743.6" cy="483.4" r="7.5" stroke="#1f1f1f" stroke-width="1.1" fill="none"/>
<ellipse cx="743.6" cy="488.6" rx="4" ry="2.2" fill="#444"/>
<line x1="732.7" y1="328.7" x2="732.7" y2="311" stroke="#1f1f1f" stroke-width="1.8"/>
<polygon points="732.7,294 738,312 727.4,312" fill="#1f1f1f"/>
<line x1="732.7" y1="540" x2="732.7" y2="523" stroke="#1f1f1f" stroke-width="1.8"/>
<polygon points="732.7,506.2 738,523.7 727.4,523.7" fill="#1f1f1f"/>
<line x1="779.6" y1="301.7" x2="747.4" y2="338.6" stroke="#1f1f1f" stroke-width="1.1"/>
<polygon points="747.4,338.6 755.7,325.14 759.62,328.56" fill="#1f1f1f"/>
<text font-size="26.2" fill="#1a1a1a" text-anchor="start" letter-spacing="-1.9" x="781.5" y="298.1">II</text>
<line x1="777.6" y1="528.7" x2="745.6" y2="492.2" stroke="#1f1f1f" stroke-width="1.1"/>
<polygon points="745.6,492.2 757.84,502.22 753.93,505.64" fill="#1f1f1f"/>
<text font-size="28" fill="#1a1a1a" text-anchor="start" letter-spacing="0.25" x="782.3" y="542.6">II</text>
<line x1="511" y1="332" x2="631.7" y2="332" stroke="#999" stroke-width="2.2"/>
<line x1="511" y1="333.3" x2="631.7" y2="333.3" stroke="#222" stroke-width="1.1"/>
<line x1="511" y1="498.1" x2="575" y2="498.1" stroke="#8a8a8a" stroke-width="2.4"/>
<line x1="575" y1="498.1" x2="703" y2="498.1" stroke="#555" stroke-width="2.4"/>
<line x1="518.1" y1="332.4" x2="518.1" y2="498" stroke="#bbb" stroke-width="2"/>
<line x1="519.5" y1="332.4" x2="519.5" y2="498" stroke="#1f1f1f" stroke-width="1.1"/>
<polygon points="519.5,332.4 522.5,346.9 516.5,346.9" fill="#1f1f1f"/>
<polygon points="519.5,498 516.5,483.5 522.5,483.5" fill="#1f1f1f"/>
<text font-size="25" fill="#1a1a1a" text-anchor="middle" letter-spacing="0.45" transform="translate(511,417.5) rotate(-90)">500</text>
<line x1="554.5" y1="332.4" x2="554.5" y2="420.6" stroke="#777" stroke-width="2.8"/>
<polygon points="554.5,332.4 557.5,346.9 551.5,346.9" fill="#1f1f1f"/>
<polygon points="554.5,420.6 551.5,406.1 557.5,406.1" fill="#1f1f1f"/>
<line x1="547.5" y1="420.6" x2="736.5" y2="420.6" stroke="#555" stroke-width="1.8"/>
<text font-size="25" fill="#1a1a1a" text-anchor="middle" letter-spacing="0.45" transform="translate(548.6,378.4) rotate(-90)">250</text>
<line x1="853.8" y1="328.4" x2="1000" y2="328.4" stroke="#1f1f1f" stroke-width="1.2"/>
<line x1="756" y1="420.8" x2="1000" y2="420.8" stroke="#1f1f1f" stroke-width="1.5"/>
<line x1="993" y1="328.4" x2="993" y2="420.6" stroke="#999" stroke-width="2"/>
<line x1="994.4" y1="328.4" x2="994.4" y2="420.6" stroke="#1f1f1f" stroke-width="1.1"/>
<polygon points="993.8,328.4 996.8,342.9 990.8,342.9" fill="#1f1f1f"/>
<polygon points="993.8,420.6 990.8,406.1 996.8,406.1" fill="#1f1f1f"/>
<text font-size="25" fill="#1a1a1a" text-anchor="middle" letter-spacing="0.45" transform="translate(983.6,377) rotate(-90)">250</text>
<line x1="938.4" y1="352" x2="938.4" y2="483.8" stroke="#555" stroke-width="2.4"/>
<line x1="938.4" y1="396.4" x2="938.4" y2="420.6" stroke="#333" stroke-width="2"/>
<line x1="834" y1="396.3" x2="945.4" y2="396.3" stroke="#666" stroke-width="2.5"/>
<line x1="733.5" y1="483.9" x2="945" y2="483.9" stroke="#1f1f1f" stroke-width="1.8"/>
<polygon points="938.4,396.4 935.4,381.9 941.4,381.9" fill="#1f1f1f"/>
<polygon points="938.4,420.6 941.4,435.1 935.4,435.1" fill="#1f1f1f"/>
<polygon points="938.4,483.8 935.4,469.3 941.4,469.3" fill="#1f1f1f"/>
<text font-size="25" fill="#1a1a1a" text-anchor="middle" letter-spacing="0.45" transform="translate(931,368.5) rotate(-90)">72</text>
<text font-size="25" fill="#1a1a1a" text-anchor="middle" letter-spacing="0.45" transform="translate(931,455.5) rotate(-90)">228</text>
<!-- foot print view -->
<rect x="156" y="652" width="45" height="75.6" stroke="#3a3a3a" stroke-width="1.9" fill="none" stroke-dasharray="7.6 3.6"/>
<path d="M164.4 652 V683 H199.6" stroke="#3a3a3a" stroke-width="1.9" fill="none" stroke-dasharray="7.6 3.6"/>
<path d="M157.2 695 H191.2 V727" stroke="#3a3a3a" stroke-width="1.9" fill="none" stroke-dasharray="7.6 3.6"/>
<rect x="327.2" y="651.8" width="48.1" height="75.7" stroke="#3a3a3a" stroke-width="1.9" fill="none" stroke-dasharray="7.6 3.6"/>
<path d="M336.8 651.8 V682.6 H372.5" stroke="#3a3a3a" stroke-width="1.9" fill="none" stroke-dasharray="7.6 3.6"/>
<path d="M329.6 694.6 H367 V727" stroke="#3a3a3a" stroke-width="1.9" fill="none" stroke-dasharray="7.6 3.6"/>
<rect x="237.4" y="815.2" width="53" height="71.4" stroke="#3a3a3a" stroke-width="1.9" fill="none" stroke-dasharray="7.6 3.6"/>
<path d="M248.4 815.2 V843.9 H290.4" stroke="#3a3a3a" stroke-width="1.9" fill="none" stroke-dasharray="7.6 3.6"/>
<path d="M241.4 859.6 H278.5 V882" stroke="#3a3a3a" stroke-width="1.9" fill="none" stroke-dasharray="7.6 3.6"/>
<circle cx="175.6" cy="667.4" r="6.4" stroke="#1f1f1f" stroke-width="1.3" fill="none"/>
<circle cx="175.6" cy="710.3" r="13.6" stroke="#1f1f1f" stroke-width="1.3" fill="none"/>
<circle cx="175.6" cy="710.3" r="6.2" stroke="#1f1f1f" stroke-width="1.4" fill="none"/>
<circle cx="175.6" cy="710.3" r="1.2" stroke="#1f1f1f" stroke-width="0.8" fill="none"/>
<circle cx="351" cy="667.4" r="6.4" stroke="#1f1f1f" stroke-width="1.3" fill="none"/>
<circle cx="351" cy="710.3" r="13.6" stroke="#1f1f1f" stroke-width="1.3" fill="none"/>
<circle cx="351" cy="710.3" r="6.2" stroke="#1f1f1f" stroke-width="1.4" fill="none"/>
<circle cx="351" cy="710.3" r="1.2" stroke="#1f1f1f" stroke-width="0.8" fill="none"/>
<circle cx="263.6" cy="830.5" r="11.9" stroke="#1f1f1f" stroke-width="1.3" fill="none"/>
<circle cx="263.6" cy="830.5" r="5.4" stroke="#1f1f1f" stroke-width="1.4" fill="none"/>
<circle cx="263.6" cy="830.5" r="1.2" stroke="#1f1f1f" stroke-width="0.8" fill="none"/>
<circle cx="263.6" cy="873.5" r="6.2" stroke="#1f1f1f" stroke-width="1.3" fill="none"/>
<line x1="158" y1="667.4" x2="244.6" y2="667.4" stroke="#333" stroke-width="2.5"/>
<line x1="332" y1="667.4" x2="367.6" y2="667.4" stroke="#333" stroke-width="2.5"/>
<line x1="131" y1="710.3" x2="182" y2="710.3" stroke="#333" stroke-width="2.1"/>
<line x1="198.6" y1="710.3" x2="233" y2="710.3" stroke="#333" stroke-width="2.1"/>
<line x1="240" y1="710.3" x2="340" y2="710.3" stroke="#333" stroke-width="1.8" stroke-dasharray="5 9 35 8 5 8 30 0"/>
<line x1="310.4" y1="710.3" x2="345" y2="710.3" stroke="#333" stroke-width="2.1"/>
<line x1="175.6" y1="629.6" x2="175.6" y2="737.4" stroke="#1f1f1f" stroke-width="1.5"/>
<line x1="351" y1="629.6" x2="351" y2="676.3" stroke="#1f1f1f" stroke-width="1.5"/>
<line x1="351" y1="684" x2="351" y2="691.2" stroke="#1f1f1f" stroke-width="1.5"/>
<line x1="351" y1="695" x2="351" y2="733.5" stroke="#1f1f1f" stroke-width="1.5"/>
<line x1="130" y1="762.4" x2="351" y2="762.4" stroke="#333" stroke-width="1.5" stroke-dasharray="35 13 33 9 5 9 34 9 5 8 34 9 5 7 6"/>
<line x1="263.6" y1="647" x2="263.6" y2="901.3" stroke="#333" stroke-width="1.5" stroke-dasharray="34 7 5 8 37 6 8 5 45 6.5 100"/>
<line x1="132.5" y1="830.5" x2="286.9" y2="830.5" stroke="#444" stroke-width="2.4"/>
<line x1="215.5" y1="873.5" x2="285.5" y2="873.5" stroke="#1f1f1f" stroke-width="1.4"/>
<line x1="263.6" y1="813.8" x2="263.6" y2="901.3" stroke="#1f1f1f" stroke-width="1.4"/>
<line x1="175.6" y1="635" x2="351" y2="635" stroke="#1f1f1f" stroke-width="1"/>
<polygon points="175.6,635 190.1,631.8 190.1,638.2" fill="#1f1f1f"/>
<polygon points="351,635 336.5,638.2 336.5,631.8" fill="#1f1f1f"/>
<text font-size="25" fill="#1a1a1a" text-anchor="start" letter-spacing="0.45" x="243.2" y="625.6">550</text>
<line x1="235" y1="667.4" x2="235" y2="710.3" stroke="#1f1f1f" stroke-width="1.5"/>
<polygon points="235,667.4 238.2,680.4 231.8,680.4" fill="#1f1f1f"/>
<polygon points="235,710.3 231.8,697.3 238.2,697.3" fill="#1f1f1f"/>
<text font-size="25" fill="#1a1a1a" text-anchor="middle" letter-spacing="0.45" transform="translate(226.4,687) rotate(-90)">50</text>
<line x1="136.6" y1="710.3" x2="136.6" y2="830.5" stroke="#1f1f1f" stroke-width="1.6"/>
<polygon points="136.6,710.3 139.6,724.3 133.6,724.3" fill="#1f1f1f"/>
<polygon points="136.6,762.4 133.6,748.4 139.6,748.4" fill="#1f1f1f"/>
<polygon points="136.6,762.4 139.6,776.4 133.6,776.4" fill="#1f1f1f"/>
<polygon points="136.6,830.5 133.6,816.5 139.6,816.5" fill="#1f1f1f"/>
<text font-size="25" fill="#1a1a1a" text-anchor="middle" letter-spacing="0.45" transform="translate(127.6,736.2) rotate(-90)">72</text>
<text font-size="25" fill="#1a1a1a" text-anchor="middle" letter-spacing="0.45" transform="translate(127.6,799) rotate(-90)">228</text>
<line x1="221" y1="830.5" x2="221" y2="873.5" stroke="#1f1f1f" stroke-width="1.5"/>
<polygon points="221,830.5 224.2,843.5 217.8,843.5" fill="#1f1f1f"/>
<polygon points="221,873.5 217.8,860.5 224.2,860.5" fill="#1f1f1f"/>
<text font-size="25" fill="#1a1a1a" text-anchor="middle" letter-spacing="0.45" transform="translate(212,851) rotate(-90)">50</text>
<line x1="327.1" y1="798.4" x2="327.1" y2="914.6" stroke="#444" stroke-width="1.6"/>
<line x1="263.8" y1="867.1" x2="332.4" y2="867.1" stroke="#1f1f1f" stroke-width="1.2"/>
<line x1="263.8" y1="879.3" x2="332.4" y2="879.3" stroke="#1f1f1f" stroke-width="2.1"/>
<polygon points="327.1,867.1 323.9,852.4 330.3,852.4" fill="#1f1f1f"/>
<polygon points="327.1,879.3 330.3,894 323.9,894" fill="#1f1f1f"/>
<ellipse cx="311.4" cy="834.8" rx="7.8" ry="6.6" fill="none" stroke="#1a1a1a" stroke-width="1.9"/>
<line x1="299" y1="830.1" x2="324.2" y2="839.9" stroke="#1a1a1a" stroke-width="1.3"/>
<text font-size="25" fill="#1a1a1a" text-anchor="start" letter-spacing="0.45" transform="translate(320.5,827.6) rotate(-90)">18</text>
<!-- flange detail -->
<circle cx="743.4" cy="762.9" r="40.2" stroke="#1f1f1f" stroke-width="1.3" fill="none"/>
<circle cx="743.4" cy="762.9" r="23.9" stroke="#1f1f1f" stroke-width="1.3" fill="none"/>
<circle cx="743.4" cy="762.9" r="12.2" stroke="#1f1f1f" stroke-width="1.4" fill="none"/>
<path d="M727.5 737.46 A30 30 0 0 1 754.64 735.08" stroke="#333" stroke-width="1.2" fill="none"/>
<path d="M716.91 776.98 A30 30 0 0 1 716.91 748.82" stroke="#333" stroke-width="1.2" fill="none"/>
<path d="M772.09 754.13 A30 30 0 0 1 770.36 776.05" stroke="#333" stroke-width="1.2" fill="none"/>
<path d="M751.67 791.74 A30 30 0 0 1 734.13 791.43" stroke="#333" stroke-width="1.2" fill="none"/>
<circle cx="721.6" cy="741.4" r="4.4" stroke="#1f1f1f" stroke-width="1.2" fill="none"/>
<circle cx="721.6" cy="741.4" r="2.3" stroke="#444" stroke-width="0.9" fill="none"/>
<line x1="720" y1="743" x2="723.2" y2="739.8" stroke="#555" stroke-width="0.8"/>
<circle cx="721.6" cy="784.4" r="4.4" stroke="#1f1f1f" stroke-width="1.2" fill="none"/>
<circle cx="721.6" cy="784.4" r="2.3" stroke="#444" stroke-width="0.9" fill="none"/>
<line x1="720" y1="782.8" x2="723.2" y2="786" stroke="#555" stroke-width="0.8"/>
<circle cx="765.2" cy="741.4" r="4.4" stroke="#1f1f1f" stroke-width="1.2" fill="none"/>
<circle cx="765.2" cy="741.4" r="2.3" stroke="#444" stroke-width="0.9" fill="none"/>
<line x1="763.6" y1="739.8" x2="766.8" y2="743" stroke="#555" stroke-width="0.8"/>
<circle cx="765.2" cy="784.4" r="4.4" stroke="#1f1f1f" stroke-width="1.2" fill="none"/>
<circle cx="765.2" cy="784.4" r="2.3" stroke="#444" stroke-width="0.9" fill="none"/>
<line x1="763.6" y1="786" x2="766.8" y2="782.8" stroke="#555" stroke-width="0.8"/>
<line x1="699.4" y1="762.9" x2="786.8" y2="762.9" stroke="#666" stroke-width="1.7" stroke-dasharray="3.6 5 15 5.5 5.5 4.4 16.6 6 6 6.6 13.2"/>
<line x1="743.4" y1="717.7" x2="743.4" y2="808" stroke="#707070" stroke-width="2.3" stroke-dasharray="14.3 8.8 3.9 6 14.3 6.6 4.4 7.7 14.3 5.5 4.5"/>
<line x1="699.4" y1="702" x2="731" y2="702" stroke="#1f1f1f" stroke-width="1"/>
<line x1="755.6" y1="702" x2="880" y2="702" stroke="#1f1f1f" stroke-width="1"/>
<polygon points="731,702 717.5,704.6 717.5,699.4" fill="#1f1f1f"/>
<polygon points="755.6,702 769.1,699.4 769.1,704.6" fill="#1f1f1f"/>
<line x1="730" y1="697.6" x2="730" y2="762.9" stroke="#999" stroke-width="1.6"/>
<line x1="731.1" y1="697.6" x2="731.1" y2="762.9" stroke="#1f1f1f" stroke-width="1.1"/>
<line x1="755.7" y1="697.6" x2="755.7" y2="762.9" stroke="#1f1f1f" stroke-width="1.3"/>
<text font-size="25" fill="#1a1a1a" text-anchor="start" letter-spacing="0" x="876.8" y="692">DN 80</text>
<line x1="668.4" y1="704" x2="668.4" y2="890" stroke="#1f1f1f" stroke-width="1"/>
<line x1="661" y1="736.8" x2="722.5" y2="736.8" stroke="#1f1f1f" stroke-width="1.9"/>
<line x1="661" y1="745.6" x2="722.5" y2="745.6" stroke="#999" stroke-width="1.4"/>
<line x1="661" y1="746.6" x2="722.5" y2="746.6" stroke="#333" stroke-width="1.1"/>
<polygon points="668.4,737 665.8,723.5 671,723.5" fill="#1f1f1f"/>
<polygon points="668.4,746.4 671,759.9 665.8,759.9" fill="#1f1f1f"/>
<text font-size="25" fill="#1a1a1a" text-anchor="start" letter-spacing="0" transform="translate(663,946.7) rotate(-90)">8 x</text>
<ellipse cx="654.2" cy="898.4" rx="7.8" ry="6.8" fill="none" stroke="#1a1a1a" stroke-width="1.9"/>
<line x1="641.8" y1="893.7" x2="667" y2="903.5" stroke="#1a1a1a" stroke-width="1.3"/>
<text font-size="25" fill="#1a1a1a" text-anchor="start" letter-spacing="0.45" transform="translate(663,884.2) rotate(-90)">19</text>
<line x1="703.2" y1="762.9" x2="703.2" y2="914" stroke="#1f1f1f" stroke-width="1.5"/>
<line x1="783.2" y1="762.9" x2="783.2" y2="914" stroke="#333" stroke-width="1.1"/>
<line x1="712.5" y1="762.9" x2="712.5" y2="874" stroke="#888" stroke-width="2"/>
<line x1="773.6" y1="762.9" x2="773.6" y2="874" stroke="#333" stroke-width="1.2"/>
<line x1="719.2" y1="762.9" x2="719.2" y2="840" stroke="#333" stroke-width="1.1"/>
<line x1="767" y1="762.9" x2="767" y2="840" stroke="#333" stroke-width="1.9"/>
<line x1="773.6" y1="762.9" x2="787" y2="762.9" stroke="#1f1f1f" stroke-width="1.2"/>
<line x1="719.2" y1="835" x2="767.2" y2="835" stroke="#1f1f1f" stroke-width="1"/>
<polygon points="719.2,835 731.2,832.5 731.2,837.5" fill="#1f1f1f"/>
<polygon points="767.2,835 755.2,837.5 755.2,832.5" fill="#1f1f1f"/>
<ellipse cx="717.4" cy="817.9" rx="6.9" ry="7.9" fill="none" stroke="#1a1a1a" stroke-width="1.9"/>
<line x1="712.7" y1="830.3" x2="722.5" y2="805.1" stroke="#1a1a1a" stroke-width="1.3"/>
<text font-size="25" fill="#1a1a1a" text-anchor="start" letter-spacing="0.45" x="732.4" y="827">132</text>
<line x1="712.4" y1="870.4" x2="773.6" y2="870.4" stroke="#1f1f1f" stroke-width="1.3"/>
<polygon points="712.4,870.4 724.4,867.9 724.4,872.9" fill="#1f1f1f"/>
<polygon points="773.6,870.4 761.6,872.9 761.6,867.9" fill="#1f1f1f"/>
<ellipse cx="717.4" cy="853.5" rx="6.9" ry="7.9" fill="none" stroke="#1a1a1a" stroke-width="1.9"/>
<line x1="712.7" y1="865.9" x2="722.5" y2="840.7" stroke="#1a1a1a" stroke-width="1.3"/>
<text font-size="25" fill="#1a1a1a" text-anchor="start" letter-spacing="0.45" x="732.4" y="862.5">160</text>
<line x1="703" y1="907" x2="783.2" y2="907" stroke="#1f1f1f" stroke-width="1"/>
<polygon points="703,907 715,904.5 715,909.5" fill="#1f1f1f"/>
<polygon points="783.2,907 771.2,909.5 771.2,904.5" fill="#1f1f1f"/>
<ellipse cx="717.4" cy="889.1" rx="6.9" ry="7.9" fill="none" stroke="#1a1a1a" stroke-width="1.9"/>
<line x1="712.7" y1="901.5" x2="722.5" y2="876.3" stroke="#1a1a1a" stroke-width="1.3"/>
<text font-size="25" fill="#1a1a1a" text-anchor="start" letter-spacing="0.45" x="733.6" y="897.9">200</text>
</svg>
</body>
</html>
